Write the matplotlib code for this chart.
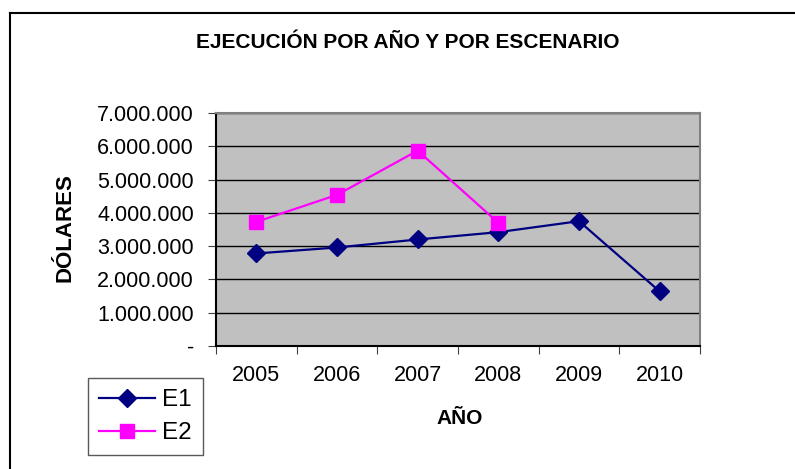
import matplotlib.pyplot as plt
from matplotlib.lines import Line2D
from matplotlib.ticker import FuncFormatter, FixedLocator

plt.rcParams['font.family'] = ['Liberation Sans', 'DejaVu Sans']

# datos
anios = ["2005", "2006", "2007", "2008", "2009", "2010"]
e1 = [2780000, 2960000, 3200000, 3420000, 3750000, 1640000]
e2 = [3730000, 4540000, 5870000, 3700000]

fig = plt.figure(figsize=(7.95, 4.69), dpi=100)
ax = fig.add_axes([216 / 795, 1 - 346 / 469, 484 / 795, 233 / 469])
ax.set_facecolor("#C0C0C0")

x1 = list(range(len(e1)))
x2 = list(range(len(e2)))
ax.plot(x1, e1, color="#000080", lw=1.6, marker="D", markersize=9.5, label="E1", zorder=3)
ax.plot(x2, e2, color="#FF00FF", lw=1.6, marker="s", markersize=10, label="E2", zorder=3)

ax.set_xlim(-0.5, len(anios) - 0.5)
ax.set_ylim(0, 7000000)
ax.set_yticks(range(0, 7000001, 1000000))


def fmt(v, pos):
    if v == 0:
        return "-"
    return f"{int(v):,}".replace(",", ".")


ax.yaxis.set_major_formatter(FuncFormatter(fmt))
ax.grid(axis="y", color="black", lw=1)
ax.set_axisbelow(True)

# ticks en los bordes de categoria, etiquetas en el centro
ax.xaxis.set_major_locator(FixedLocator([i - 0.5 for i in range(len(anios) + 1)]))
ax.xaxis.set_minor_locator(FixedLocator(x1))
ax.set_xticklabels([])
ax.set_xticklabels(anios, minor=True)
ax.tick_params(axis="x", which="major", direction="out", length=6, color="#404040")
ax.tick_params(axis="x", which="minor", length=0, pad=14, labelsize=15.5)
ax.tick_params(axis="y", direction="out", length=6, pad=10, labelsize=15.5, color="#404040")

for s in ["top", "right"]:
    ax.spines[s].set_color("#808080")
    ax.spines[s].set_linewidth(1.5)
for s in ["left", "bottom"]:
    ax.spines[s].set_color("black")
    ax.spines[s].set_linewidth(1.5)

fig.text(408 / 795, 1 - 43 / 469, "EJECUCIÓN POR AÑO Y POR ESCENARIO",
         ha="center", va="center", fontsize=15, fontweight="bold")
fig.text(65 / 795, 1 - 228 / 469, "DÓLARES", rotation=90,
         ha="center", va="center", fontsize=16, fontweight="bold")
fig.text(460 / 795, 1 - 418 / 469, "AÑO",
         ha="center", va="center", fontsize=15, fontweight="bold")

leg = fig.legend(loc="lower left", bbox_to_anchor=(88 / 795, 14 / 469),
                 fontsize=17.5, frameon=True, fancybox=False, edgecolor="#303030",
                 handlelength=2.3, borderpad=0.45, labelspacing=0.45, handletextpad=0.3,
                 borderaxespad=0)
leg.get_frame().set_linewidth(1)

# borde del grafico
fig.add_artist(Line2D([10 / 795, 10 / 795], [0, 1 - 13 / 469], color="black", lw=1.5,
                      transform=fig.transFigure))
fig.add_artist(Line2D([10 / 795, 1], [1 - 13 / 469, 1 - 13 / 469], color="black", lw=1.5,
                      transform=fig.transFigure))

fig.savefig("out.png", dpi=100)
